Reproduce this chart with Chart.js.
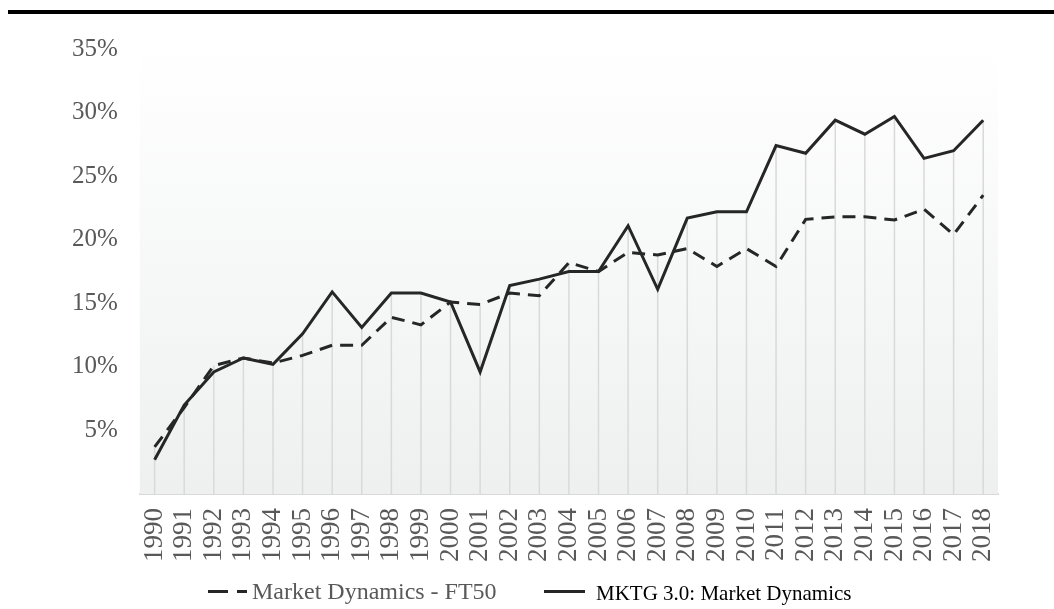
<!DOCTYPE html>
<html>
<head>
<meta charset="utf-8">
<script src="https://cdn.jsdelivr.net/npm/chart.js@4/dist/chart.umd.min.js"></script>
<style>
  body { margin: 0; background: #fff; }
  #wrap { position: relative; width: 1054px; height: 609px; }
  #topRule { position: absolute; left: 8px; top: 10px; width: 1046px; height: 4px; background: #000; }
  .leg { position: absolute; top: 580px; height: 30px; white-space: nowrap; }
  .sym { position: absolute; top: 10px; height: 3px; background: #262626; }
</style>
</head>
<body>
<div id="wrap">
  <canvas id="grafico" width="1054" height="609"></canvas>
  <div id="topRule"></div>
  <div class="leg" style="left:208px;">
    <span class="sym" style="left:0; width:20px;"></span>
    <span class="sym" style="left:29px; width:10px;"></span>
    <span style="position:absolute; left:44px; top:-2px; font-family:'Liberation Serif'; font-size:24px; color:#595959;">Market Dynamics - FT50</span>
  </div>
  <div class="leg" style="left:544px;">
    <span class="sym" style="left:0; width:41px;"></span>
    <span style="position:absolute; left:52px; top:1px; font-family:'Liberation Serif'; font-size:21px; color:#000;">MKTG 3.0: Market Dynamics</span>
  </div>
</div>
<script>
// datos
var anios = ['1990','1991','1992','1993','1994','1995','1996','1997','1998','1999',
             '2000','2001','2002','2003','2004','2005','2006','2007','2008','2009',
             '2010','2011','2012','2013','2014','2015','2016','2017','2018'];

var ft50 = [3.7, 6.8, 10.1, 10.7, 10.3, 10.9, 11.7, 11.7, 13.9, 13.3,
            15.1, 14.9, 15.8, 15.6, 18.2, 17.5, 19.0, 18.8, 19.3, 17.9,
            19.3, 17.9, 21.6, 21.8, 21.8, 21.55, 22.4, 20.4, 23.5];

var mktg = [2.7, 7.0, 9.6, 10.7, 10.2, 12.6, 15.9, 13.1, 15.8, 15.8,
            15.1, 9.6, 16.4, 16.9, 17.5, 17.5, 21.1, 16.1, 21.7, 22.2,
            22.2, 27.4, 26.8, 29.4, 28.3, 29.7, 26.4, 27.0, 29.4];

var yTicks = [5, 10, 15, 20, 25, 30, 35];

var nombres = ['Market Dynamics - FT50', 'MKTG 3.0: Market Dynamics'];

// fondo degradado del area y lineas de caida
const fondoPlugin = {
    id: 'fondo',
    beforeDatasetsDraw: function (chart) {
        const ctx = chart.ctx;
        const a = chart.chartArea;
        const xs = chart.scales.x;
        const ys = chart.scales.y;
        ctx.save();
        const g = ctx.createLinearGradient(0, a.top, 0, a.bottom);
        g.addColorStop(0, '#ffffff');
        g.addColorStop(0.12, '#fdfdfd');
        g.addColorStop(1, '#eef0f0');
        ctx.fillStyle = g;
        ctx.fillRect(a.left, a.top, a.right - a.left, a.bottom - a.top);

        ctx.strokeStyle = '#d9d9d9';
        ctx.lineWidth = 1.5;
        for (var i = 0; i < anios.length; i++) {
            var x = xs.getPixelForValue(i);
            var y = ys.getPixelForValue(Math.max(ft50[i], mktg[i]));
            ctx.beginPath();
            ctx.moveTo(x, y);
            ctx.lineTo(x, a.bottom);
            ctx.stroke();
        }
        ctx.restore();
    }
};

const ctx = document.getElementById('grafico').getContext('2d');
const grafico = new Chart(ctx, {
    type: 'line',
    data: {
        labels: anios,
        datasets: [{
            label: nombres[0],
            data: ft50,
            borderColor: '#262626',
            borderWidth: 3,
            borderDash: [13, 8],
            pointRadius: 0,
            fill: false,
            tension: 0
        }, {
            label: nombres[1],
            data: mktg,
            borderColor: '#262626',
            borderWidth: 3,
            pointRadius: 0,
            fill: false,
            tension: 0
        }]
    },
    options: {
        responsive: false,
        animation: false,
        devicePixelRatio: 1,
        layout: {
            padding: { top: 49, left: 50, right: 56, bottom: 33 }
        },
        plugins: {
            legend: { display: false },
            tooltip: { enabled: false }
        },
        scales: {
            x: {
                offset: true,
                grid: { display: false, drawTicks: false },
                border: { display: true, color: '#d9d9d9', width: 2 },
                ticks: {
                    autoSkip: false,
                    minRotation: 90,
                    maxRotation: 90,
                    padding: 14,
                    color: '#595959',
                    font: { family: 'Liberation Serif', size: 27 }
                }
            },
            y: {
                min: 0,
                max: 35,
                afterBuildTicks: function (scale) {
                    scale.ticks = yTicks.map(function (v) { return { value: v }; });
                },
                grid: { display: false, drawTicks: false },
                border: { display: false },
                ticks: {
                    padding: 22,
                    color: '#595959',
                    font: { family: 'Liberation Serif', size: 25 },
                    callback: function (v) { return v + '%'; }
                }
            }
        }
    },
    plugins: [fondoPlugin]
});
</script>
</body>
</html>
